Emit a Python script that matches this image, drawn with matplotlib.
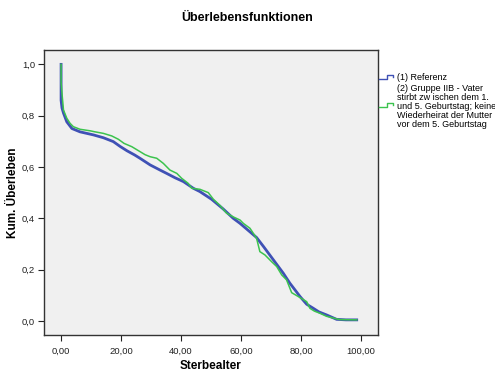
import matplotlib
matplotlib.use("Agg")
import matplotlib.pyplot as plt
from matplotlib.lines import Line2D
from matplotlib.ticker import FuncFormatter

plt.rcParams['font.family'] = ['Liberation Sans', 'DejaVu Sans']

# Kaplan-Meier estimates: age at death (years) vs. cumulative survival
ref_age = [0.0, 0.0, 0.3, 0.8, 1.9, 3.6, 6.3, 10.8, 14.1, 17.4, 19.7, 22.0, 24.5,
           26.3, 29.7, 33.0, 35.2, 38.0, 40.8, 44.1, 46.3, 50.2, 54.0, 57.4,
           59.7, 62.5, 65.2, 67.5, 70.8, 74.1, 76.3, 79.7, 81.9, 84.0, 86.0,
           88.6, 91.9, 95.0, 98.6]
ref_surv = [1.0, 0.86, 0.83, 0.81, 0.776, 0.75, 0.737, 0.725, 0.714, 0.699, 0.68,
            0.663, 0.647, 0.634, 0.608, 0.588, 0.575, 0.558, 0.543, 0.517, 0.504,
            0.474, 0.437, 0.40, 0.38, 0.352, 0.325, 0.29, 0.238, 0.186, 0.147,
            0.095, 0.065, 0.05, 0.035, 0.023, 0.006, 0.004, 0.004]

grp_age = [0.0, 0.0, 0.2, 0.8, 1.9, 3.0, 4.1, 6.3, 9.7, 11.3, 14.1, 16.9, 19.1,
           21.0, 23.6, 26.3, 28.0, 29.7, 31.9, 34.1, 36.3, 38.6, 40.2, 42.4,
           43.6, 46.3, 49.1, 50.8, 53.0, 55.2, 57.5, 59.7, 60.8, 63.0, 65.2,
           66.3, 68.0, 70.2, 71.9, 73.6, 75.2, 76.9, 79.1, 81.9, 83.0, 84.5,
           86.3, 88.5, 90.8, 93.0, 98.6]
grp_surv = [1.0, 0.93, 0.90, 0.822, 0.79, 0.77, 0.757, 0.747, 0.741, 0.737,
            0.731, 0.721, 0.708, 0.692, 0.679, 0.66, 0.648, 0.64, 0.634, 0.614,
            0.588, 0.575, 0.556, 0.536, 0.517, 0.513, 0.50, 0.474, 0.45, 0.42,
            0.405, 0.393, 0.38, 0.361, 0.322, 0.27, 0.257, 0.231, 0.212, 0.179,
            0.16, 0.11, 0.095, 0.075, 0.049, 0.038, 0.03, 0.018, 0.011, 0.005,
            0.004]

x_ticks = [0, 20, 40, 60, 80, 100]
y_ticks = [0.0, 0.2, 0.4, 0.6, 0.8, 1.0]

ref_label = "(1) Referenz"
grp_label = ("(2) Gruppe IIB - Vater\nstirbt zw ischen dem 1.\n"
             "und 5. Geburtstag; keine\nWiederheirat der Mutter\n"
             "vor dem 5. Geburtstag")

BLUE = "#3F51B5"
GREEN = "#3CC34E"

fig = plt.figure(figsize=(4.95, 3.74), dpi=100)
ax = fig.add_axes([44 / 495, 1 - 335 / 374, (378 - 44) / 495, (335 - 50) / 374])
ax.set_facecolor("#F0F0F0")

ax.plot(ref_age, ref_surv, color=BLUE, lw=2.0, solid_joinstyle="round", zorder=3)
ax.plot(grp_age, grp_surv, color=GREEN, lw=1.1, zorder=4)

ax.set_xlim(-5.7, 105.7)
ax.set_ylim(-0.055, 1.056)
ax.set_xticks(x_ticks)
ax.set_yticks(y_ticks)
ax.xaxis.set_major_formatter(FuncFormatter(lambda v, p: f"{v:.2f}".replace(".", ",")))
ax.yaxis.set_major_formatter(FuncFormatter(lambda v, p: f"{v:.1f}".replace(".", ",")))
ax.tick_params(direction="out", length=4.5, width=0.8, labelsize=6.8, colors="#222222",
               pad=2)
ax.tick_params(axis="x", pad=4)
for s in ax.spines.values():
    s.set_color("#333333")
    s.set_linewidth(1.0)

ax.set_xlabel("Sterbealter", fontsize=8.5, fontweight="bold", va="center")
ax.set_ylabel("Kum. Überleben", fontsize=8.5, fontweight="bold", va="center")
ax.xaxis.set_label_coords(0.5, -0.109)
ax.yaxis.set_label_coords(-0.092, 0.5)
fig.text(0.5, 1 - 18 / 374, "Überlebensfunktionen", ha="center", va="center",
         fontsize=9, fontweight="bold")

# legend: step-shaped line keys outside the plot area
def key(ypix, color):
    y0 = 1 - ypix / 374
    xs = [x / 495 for x in (379, 387, 387, 393, 393)]
    ys = [y0 - 2 / 374, y0 - 2 / 374, y0 + 2 / 374, y0 + 2 / 374, y0]
    fig.add_artist(Line2D(xs, ys, color=color, lw=1.0, transform=fig.transFigure))

key(77, BLUE)
key(105, GREEN)
fig.text(397 / 495, 1 - 77 / 374, ref_label, fontsize=6.5, va="center", ha="left")
fig.text(397 / 495, 1 - 84 / 374, grp_label, fontsize=6.5, va="top", ha="left",
         linespacing=1.0)

fig.savefig("out.png", dpi=100)
